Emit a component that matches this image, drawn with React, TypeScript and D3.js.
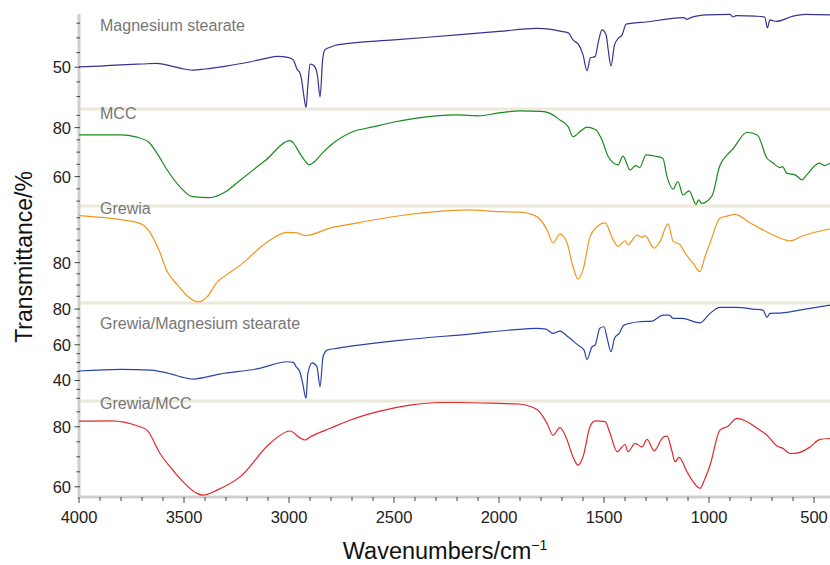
import * as d3 from "d3";

const W = 830;
const H = 565;
const plotLeft = 79;
const plotRight = 830;
const plotTop = 14;
const plotBottom = 497;

// x axis
const xTicks = [4000, 3500, 3000, 2500, 2000, 1500, 1000, 500];

// Magnesium stearate
const mgStWn = [4000, 3900, 3800, 3700, 3630, 3560, 3500, 3457, 3400, 3300, 3200, 3100, 3057, 3000, 2980, 2960, 2950, 2940, 2930, 2919, 2910, 2900, 2880, 2865, 2852, 2840, 2829, 2800, 2771, 2500, 2200, 2000, 1819, 1760, 1710, 1670, 1648, 1620, 1600, 1581, 1565, 1543, 1525, 1510, 1490, 1480, 1467, 1450, 1430, 1414, 1395, 1350, 1300, 1200, 1120, 1105, 1090, 1010, 900, 886, 870, 780, 735, 722, 710, 680, 600, 540, 424];
const mgStT = [50.1, 50.4, 50.8, 51.1, 51.3, 50.4, 49.4, 49.0, 49.4, 50.4, 51.6, 53.2, 53.7, 53.3, 52.5, 49.1, 48.4, 45.7, 40.6, 36.3, 44.0, 51.1, 50.4, 47.4, 39.9, 52.5, 55.9, 56.9, 57.6, 59.3, 61.0, 62.2, 63.2, 63.0, 62.3, 61.7, 59.3, 57.6, 54.2, 48.8, 53.2, 53.6, 59.3, 62.7, 61.0, 55.9, 50.4, 57.6, 60.0, 61.0, 64.7, 65.1, 65.4, 66.4, 66.9, 66.3, 66.8, 67.8, 68.0, 67.1, 67.6, 67.4, 67.1, 63.4, 66.1, 65.6, 67.4, 68.0, 67.8];
const mgStTicks = [50];

// MCC
const mccWn = [4000, 3800, 3730, 3670, 3630, 3580, 3520, 3460, 3380, 3300, 3240, 3110, 2995, 2980, 2950, 2920, 2905, 2880, 2840, 2800, 2700, 2600, 2500, 2400, 2300, 2200, 2100, 2000, 1900, 1800, 1760, 1710, 1670, 1648, 1610, 1581, 1540, 1510, 1480, 1433, 1410, 1376, 1350, 1330, 1300, 1260, 1220, 1200, 1171, 1148, 1124, 1095, 1062, 1050, 1035, 986, 950, 914, 890, 819, 770, 724, 700, 662, 650, 630, 590, 557, 535, 475, 450, 424];
const mccT = [77.0, 77.0, 76.2, 74.2, 69.7, 62.7, 55.9, 51.8, 51.4, 53.9, 58.0, 66.8, 74.7, 73.8, 69.7, 66.0, 64.8, 66.0, 69.7, 72.9, 78.2, 80.3, 82.3, 83.8, 84.8, 85.2, 84.8, 86.0, 86.8, 86.6, 85.9, 83.1, 80.3, 76.3, 78.7, 80.2, 79.1, 75.0, 68.2, 64.8, 68.4, 62.7, 64.5, 63.7, 68.9, 68.4, 67.5, 60.0, 54.9, 58.0, 52.5, 54.2, 48.7, 50.5, 49.1, 52.1, 64.1, 68.9, 70.9, 78.1, 77.0, 67.5, 65.9, 63.7, 64.1, 61.4, 60.7, 58.7, 60.7, 65.5, 64.5, 65.5];
const mccTicks = [80, 60];

// Grewia
const grewiaWn = [4000, 3850, 3710, 3670, 3620, 3580, 3530, 3480, 3433, 3390, 3340, 3310, 3230, 3110, 3010, 2960, 2924, 2800, 2700, 2600, 2450, 2300, 2150, 2000, 1900, 1820, 1771, 1743, 1710, 1676, 1648, 1624, 1600, 1567, 1533, 1495, 1457, 1433, 1400, 1386, 1343, 1319, 1305, 1262, 1233, 1195, 1171, 1138, 1114, 1076, 1043, 1019, 995, 948, 914, 876, 852, 814, 771, 676, 614, 552, 486, 424];
const grewiaT = [88.4, 87.9, 87.0, 85.8, 82.3, 78.4, 76.0, 73.9, 73.0, 73.9, 76.6, 77.5, 79.6, 83.5, 85.4, 85.3, 84.8, 86.2, 86.9, 87.6, 88.5, 89.1, 89.4, 89.1, 89.0, 88.2, 85.8, 83.5, 85.1, 83.5, 79.3, 77.1, 78.7, 84.6, 86.4, 87.1, 84.1, 82.9, 83.9, 83.2, 84.9, 84.5, 84.8, 82.6, 83.8, 86.9, 83.8, 83.2, 81.7, 79.9, 78.4, 81.1, 83.5, 87.9, 88.3, 88.6, 88.3, 87.3, 86.4, 84.6, 83.9, 84.8, 85.5, 86.0];
const grewiaTicks = [80];

// Grewia/Magnesium stearate
const gMgStWn = [4000, 3800, 3660, 3560, 3510, 3457, 3330, 3140, 3010, 2980, 2965, 2950, 2935, 2919, 2910, 2890, 2867, 2852, 2838, 2819, 2771, 2460, 2140, 1890, 1820, 1776, 1743, 1710, 1670, 1624, 1595, 1581, 1557, 1543, 1520, 1500, 1485, 1467, 1450, 1428, 1405, 1333, 1271, 1219, 1190, 1171, 1129, 1043, 995, 948, 867, 790, 743, 724, 710, 652, 570, 424];
const gMgStT = [45.3, 46.2, 45.8, 43.6, 41.9, 40.8, 43.6, 46.8, 50.5, 50.1, 47.5, 45.3, 38.5, 30.0, 44.0, 49.9, 47.7, 36.5, 53.3, 57.0, 58.0, 62.6, 66.0, 68.8, 69.2, 68.8, 66.4, 67.7, 64.3, 59.8, 57.0, 51.8, 58.9, 59.8, 69.2, 70.1, 63.6, 56.1, 63.6, 66.4, 71.0, 72.9, 73.3, 76.6, 76.6, 74.8, 74.8, 72.3, 77.6, 81.0, 81.0, 80.0, 79.4, 75.4, 77.6, 77.9, 79.4, 82.2];
const gMgStTicks = [80, 60, 40];

// Grewia/MCC
const gMccWn = [4000, 3850, 3710, 3676, 3614, 3567, 3505, 3438, 3410, 3343, 3233, 3090, 2995, 2948, 2924, 2900, 2800, 2710, 2567, 2424, 2280, 2200, 2000, 1910, 1819, 1771, 1743, 1710, 1676, 1648, 1624, 1600, 1567, 1543, 1495, 1471, 1438, 1400, 1386, 1352, 1319, 1295, 1262, 1219, 1200, 1176, 1162, 1143, 1105, 1076, 1043, 1019, 995, 948, 910, 867, 819, 771, 724, 676, 648, 614, 567, 519, 471, 424];
const gMccT = [81.9, 82.0, 80.0, 78.9, 71.1, 66.7, 61.7, 57.8, 57.2, 58.9, 63.3, 74.5, 78.6, 76.3, 75.6, 76.6, 79.6, 82.2, 85.2, 87.2, 88.1, 88.1, 87.8, 87.6, 85.8, 81.1, 77.2, 79.7, 75.6, 70.0, 67.2, 70.0, 80.0, 82.0, 81.7, 77.8, 71.7, 74.1, 71.7, 74.5, 73.3, 75.8, 72.0, 76.5, 76.9, 71.7, 68.3, 69.8, 65.0, 61.7, 59.5, 62.8, 67.2, 78.9, 80.2, 82.8, 81.7, 79.5, 77.2, 73.6, 72.8, 71.1, 71.5, 73.3, 75.8, 76.1];
const gMccTicks = [80, 60];

const panels = [
  { name: "Magnesium stearate", wn: mgStWn, t: mgStT, ticks: mgStTicks, color: "#37328f", domain: [35.77, 68.13], range: [109, 14], minor: 5, labelY: 30.5 },
  { name: "MCC", wn: mccWn, t: mccT, ticks: mccTicks, color: "#178a1c", domain: [48.0, 87.6], range: [206, 109], minor: 5, labelY: 118.5 },
  { name: "Grewia", wn: grewiaWn, t: grewiaT, ticks: grewiaTicks, color: "#f3951c", domain: [72.8, 90.1], range: [303, 206], minor: 2, labelY: 213.5 },
  { name: "Grewia/Magnesium stearate", wn: gMgStWn, t: gMgStT, ticks: gMgStTicks, color: "#2b43a6", domain: [28.5, 83.4], range: [401, 303], minor: 5, labelY: 329 },
  { name: "Grewia/MCC", wn: gMccWn, t: gMccT, ticks: gMccTicks, color: "#e2272a", domain: [56.6, 88.6], range: [497, 401], minor: 5, labelY: 409 },
];

const font = "'Liberation Sans', Arial, Helvetica, sans-serif";

export default function App() {
  const x = d3.scaleLinear().domain([4000, 424]).range([plotLeft, plotRight]);
  const xMinor = d3.range(4000, 424, -100);

  return (
    <svg width={W} height={H} style={{ position: "absolute", left: 0, top: 0 }} fontFamily={font}>
      <rect width={W} height={H} fill="#fff" />

      {/* panel separators */}
      {panels.slice(1).map((p) => (
        <line key={p.name} x1={plotLeft} x2={plotRight} y1={p.range[1]} y2={p.range[1]} stroke="#ece9da" strokeWidth={3} />
      ))}

      {/* axes */}
      <line x1={plotLeft} x2={plotLeft} y1={plotTop} y2={plotBottom + 1.5} stroke="#cfcfcf" strokeWidth={3} />
      <line x1={plotLeft - 1.5} x2={plotRight} y1={plotBottom} y2={plotBottom} stroke="#cfcfcf" strokeWidth={3} />

      {xMinor.map((v) => {
        const major = v % 500 === 0;
        return <line key={v} x1={x(v)} x2={x(v)} y1={plotBottom} y2={plotBottom + (major ? 6 : 4)} stroke="#444" strokeWidth={1} />;
      })}
      {xTicks.map((v) => (
        <text key={v} x={x(v)} y={523} textAnchor="middle" fontSize={16.5} fill="#222">{v}</text>
      ))}

      {panels.map((p) => {
        const y = d3.scaleLinear().domain(p.domain).range(p.range);
        const line = d3.line<number>().x((_, i) => x(p.wn[i])).y((d) => y(d)).curve(d3.curveMonotoneX);
        const start = Math.ceil(p.domain[0] / p.minor) * p.minor;
        const minors = d3.range(start, p.domain[1], p.minor).filter((v) => y(v) < p.range[0] - 2 && y(v) > p.range[1] + 2);
        return (
          <g key={p.name}>
            {minors.map((v) => (
              <line key={v} x1={p.ticks.includes(v) ? 74.5 : 76.5} x2={80} y1={y(v)} y2={y(v)} stroke="#444" strokeWidth={1} />
            ))}
            {p.ticks.map((v) => (
              <text key={v} x={71} y={y(v)} dy="0.36em" textAnchor="end" fontSize={16.5} fill="#222">{v}</text>
            ))}
            <path d={line(p.t) ?? ""} fill="none" stroke={p.color} strokeWidth={1.2} strokeLinejoin="round" />
          </g>
        );
      })}

      {panels.map((p) => (
        <text key={p.name} x={100} y={p.labelY} fontSize={16} fill="#777">{p.name}</text>
      ))}

      <text transform="translate(32,257) rotate(-90)" textAnchor="middle" fontSize={23} fill="#111">Transmittance/%</text>
      <text x={445} y={559} textAnchor="middle" fontSize={23.5} fill="#111">
        Wavenumbers/cm<tspan dy={-9} fontSize={14}>−1</tspan>
      </text>
    </svg>
  );
}
